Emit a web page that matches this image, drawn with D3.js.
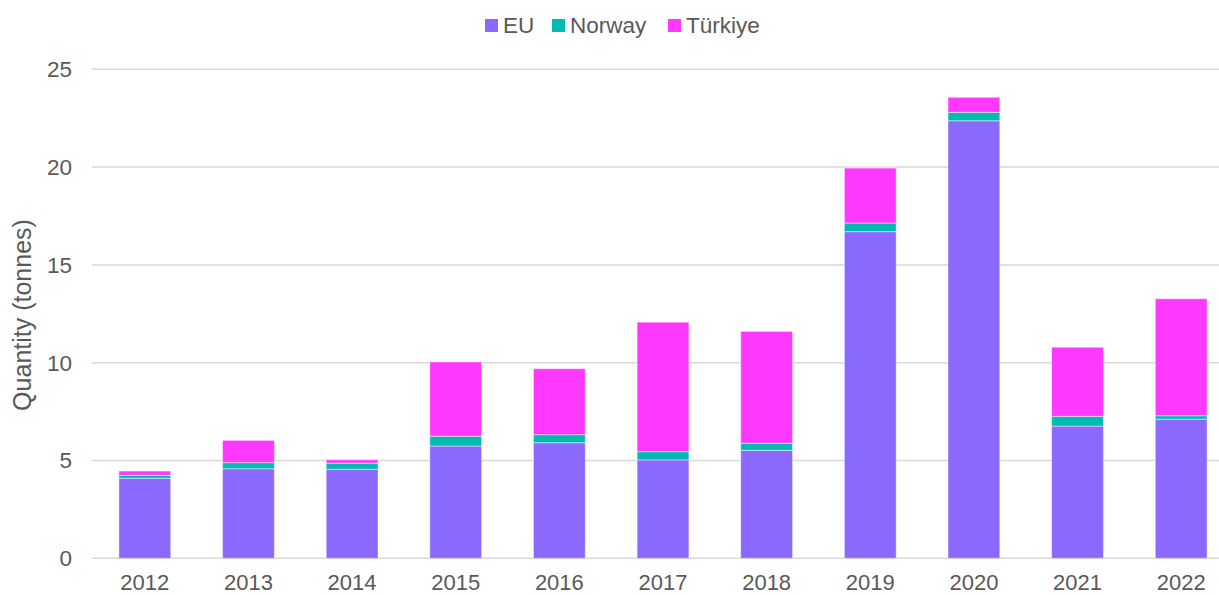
<!DOCTYPE html>
<html>
<head>
<meta charset="utf-8">
<script src="https://cdn.jsdelivr.net/npm/d3@7"></script>
<style>
  body { margin: 0; background: #fff; }
  text { font-family: "Liberation Sans", Arial, sans-serif; fill: #595959; }
</style>
</head>
<body>
<div id="container"></div>
<script>
/* DATA */
const years = ["2012","2013","2014","2015","2016","2017","2018","2019","2020","2021","2022"];
const eu      = [4.09, 4.58, 4.55, 5.74, 5.91, 5.03, 5.52, 16.70, 22.37, 6.76, 7.11];
const norway  = [0.15, 0.31, 0.31, 0.50, 0.41, 0.42, 0.36, 0.44, 0.43, 0.50, 0.18];
const turkiye = [0.22, 1.14, 0.18, 3.80, 3.37, 6.62, 5.72, 2.81, 0.77, 3.53, 5.98];
const seriesNames = ["EU", "Norway", "Türkiye"];
const yTicks = [0, 5, 10, 15, 20, 25];

/* CONSTANTS */
const width = 1219, height = 595;
const colors = { "EU": "#8b69ff", "Norway": "#00bbb0", "Türkiye": "#ff38ff" };

const table = years.map((y, i) => ({ year: y, "EU": eu[i], "Norway": norway[i], "Türkiye": turkiye[i] }));
const stacked = d3.stack().keys(seriesNames)(table);

const svg = d3.select("#container")
  .append("svg")
  .attr("width", width)
  .attr("height", height);

/* SCALES */
const xScale = d3.scaleBand()
  .domain(years)
  .range([93, 1233])
  .paddingInner(0.5)
  .paddingOuter(0.25);

const yScale = d3.scaleLinear()
  .domain([0, 25])
  .range([558.3, 69.3]);

// gridlines
svg.append("g")
  .selectAll("line")
  .data(yTicks)
  .join("line")
  .attr("x1", 92)
  .attr("x2", width)
  .attr("y1", d => yScale(d))
  .attr("y2", d => yScale(d))
  .attr("stroke", "#d9d9d9")
  .attr("stroke-width", 1.5);

// y labels
svg.append("g")
  .selectAll("text")
  .data(yTicks)
  .join("text")
  .attr("x", 72)
  .attr("y", d => yScale(d))
  .attr("dy", "0.35em")
  .attr("text-anchor", "end")
  .style("font-size", "22.5px")
  .text(d => d);

// bars
svg.append("g")
  .selectAll("g")
  .data(stacked)
  .join("g")
  .attr("fill", d => colors[d.key])
  .selectAll("rect")
  .data(d => d)
  .join("rect")
  .attr("x", d => xScale(d.data.year))
  .attr("width", xScale.bandwidth())
  .attr("y", d => yScale(d[1]))
  .attr("height", d => yScale(d[0]) - yScale(d[1]))
  .attr("stroke", "rgba(255,255,255,0.45)")
  .attr("stroke-width", 1);

// x labels
svg.append("g")
  .selectAll("text")
  .data(years)
  .join("text")
  .attr("x", d => xScale(d) + xScale.bandwidth() / 2)
  .attr("y", 590)
  .attr("text-anchor", "middle")
  .style("font-size", "22px")
  .text(d => d);

// y title
svg.append("text")
  .attr("transform", "translate(31,315) rotate(-90)")
  .attr("text-anchor", "middle")
  .style("font-size", "25px")
  .text("Quantity (tonnes)");

// legend
const legendX = [485, 552, 668];
const legend = svg.append("g")
  .selectAll("g")
  .data(seriesNames)
  .join("g")
  .attr("transform", (d, i) => `translate(${legendX[i]},19)`);

legend.append("rect")
  .attr("width", 13)
  .attr("height", 13)
  .attr("fill", d => colors[d]);

legend.append("text")
  .attr("x", 18)
  .attr("y", 14)
  .style("font-size", "22.5px")
  .text(d => d);
</script>
</body>
</html>
